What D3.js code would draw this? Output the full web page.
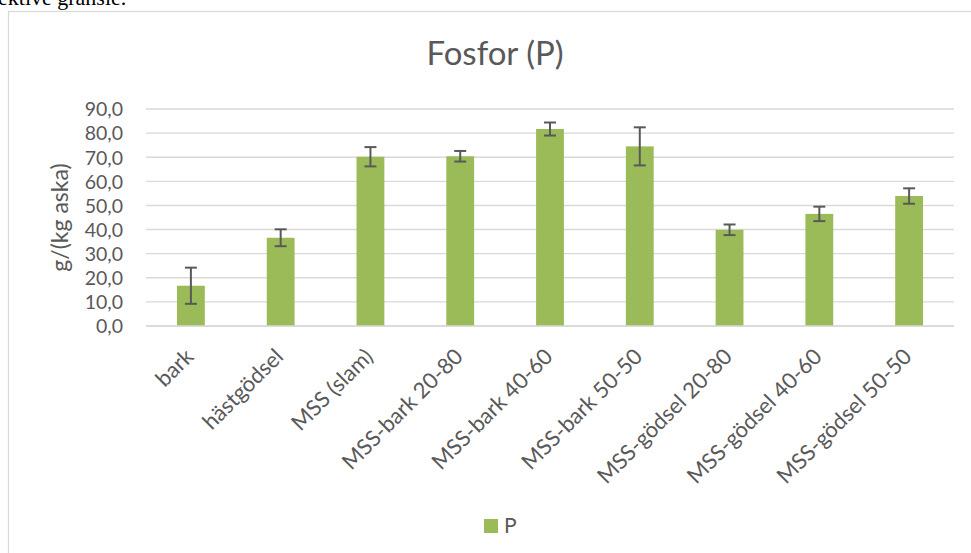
<!DOCTYPE html>
<html><head><meta charset="utf-8">
<script src="https://cdn.jsdelivr.net/npm/d3@7"></script>
<style>html,body{margin:0;padding:0;background:#fff;overflow:hidden}</style>
</head><body>
<script>
const categories = ["bark","hästgödsel","MSS (slam)","MSS-bark 20-80","MSS-bark 40-60","MSS-bark 50-50","MSS-gödsel 20-80","MSS-gödsel 40-60","MSS-gödsel 50-50"];
const values = [16.7, 36.6, 70.2, 70.4, 81.7, 74.5, 39.9, 46.5, 53.9];
const errors = [7.5, 3.5, 4.0, 2.2, 2.7, 7.9, 2.2, 3.0, 3.2];
const yTicks = [0,10,20,30,40,50,60,70,80,90];
const seriesName = "P";
const title = "Fosfor (P)";
const yTitle = "g/(kg aska)";

(function(){
const W = 971, H = 553;
const font = "Lato, 'Open Sans', sans-serif";
const svg = d3.select("body").append("svg").attr("width", W).attr("height", H);

// page text fragment above chart (cut off)
svg.append("text").attr("x", -2).attr("y", 5).attr("font-family","'Liberation Serif', serif")
  .attr("font-size", 22).attr("fill","#000").text("ektive gränsle.");

// chart frame
svg.append("rect").attr("x", 8.5).attr("y", 11.5).attr("width", W + 10).attr("height", H + 10)
  .attr("fill","#fff").attr("stroke","#d9d9d9").attr("stroke-width",1.2);

const pl = 146, pr = 954, pt = 109, pb = 326;
const x = d3.scaleBand().domain(categories).range([pl, pr]).paddingInner(0.69).paddingOuter(0.345);
const y = d3.scaleLinear().domain([0, 90]).range([pb, pt]);

// gridlines
svg.append("g").selectAll("line").data(yTicks).join("line")
  .attr("x1", pl).attr("x2", pr).attr("y1", d => y(d)).attr("y2", d => y(d))
  .attr("stroke","#d9d9d9").attr("stroke-width",1.4);

// y axis labels
const yAxis = d3.axisLeft(y).tickValues(yTicks).tickSize(0).tickPadding(0)
  .tickFormat(d => d3.format(".1f")(d).replace(".", ","));
const ya = svg.append("g").attr("transform", `translate(123,0)`).call(yAxis);
ya.select(".domain").remove();
ya.selectAll("text").attr("font-family", font).attr("font-size", 19.5).attr("fill","#595959").attr("dy","0.35em");

// bars
svg.append("g").selectAll("rect").data(values).join("rect")
  .attr("x", (d,i) => x(categories[i])).attr("width", x.bandwidth())
  .attr("y", d => y(d)).attr("height", d => y(0) - y(d))
  .attr("fill","#9bbb59");

// error bars
const eg = svg.append("g").attr("stroke","#595959").attr("stroke-width",2);
values.forEach((v,i) => {
  const cx = x(categories[i]) + x.bandwidth()/2;
  const hi = y(v + errors[i]), lo = y(v - errors[i]);
  eg.append("line").attr("x1",cx).attr("x2",cx).attr("y1",hi).attr("y2",lo);
  eg.append("line").attr("x1",cx-6).attr("x2",cx+6).attr("y1",hi).attr("y2",hi);
  eg.append("line").attr("x1",cx-6).attr("x2",cx+6).attr("y1",lo).attr("y2",lo);
});

// x axis line
svg.append("line").attr("x1",pl).attr("x2",pr).attr("y1",pb).attr("y2",pb)
  .attr("stroke","#d9d9d9").attr("stroke-width",1.4);

// x labels
const xAxis = d3.axisBottom(x).tickSize(0).tickPadding(0);
const xa = svg.append("g").attr("transform", `translate(0,${pb})`).call(xAxis);
xa.select(".domain").remove();
xa.selectAll("text").attr("font-family", font).attr("font-size", 22).attr("fill","#595959")
  .attr("text-anchor","end").attr("dy", null).attr("y", 0)
  .attr("transform","translate(4,32) rotate(-45)");

// title
svg.append("text").attr("x", 495).attr("y", 65).attr("text-anchor","middle")
  .attr("font-family", font).attr("font-size", 33).attr("fill","#595959").text(title);

// y title
svg.append("text").attr("transform", `translate(68,${(pt+pb)/2}) rotate(-90)`)
  .attr("text-anchor","middle").attr("font-family", font).attr("font-size", 23).attr("fill","#595959").text(yTitle);

// legend
svg.append("rect").attr("x",484).attr("y",519).attr("width",14).attr("height",14).attr("fill","#9bbb59");
svg.append("text").attr("x",504).attr("y",533).attr("font-family", font).attr("font-size",21).attr("fill","#595959").text(seriesName);
})();
</script>
</body></html>
